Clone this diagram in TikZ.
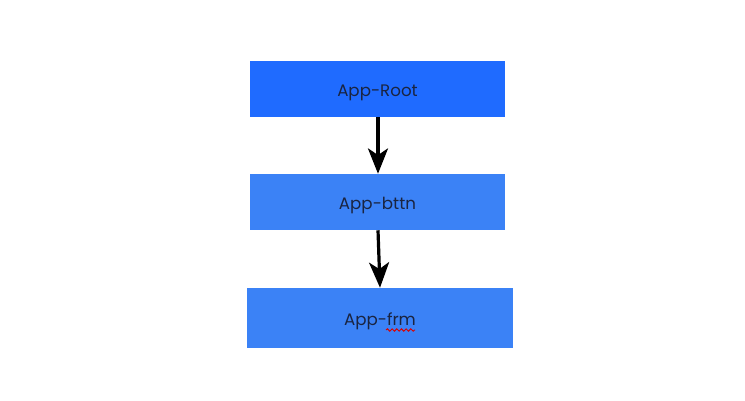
\documentclass[tikz,border=0pt]{standalone}
\usepackage{fontspec}
\setmainfont{Poppins}
\usetikzlibrary{arrows.meta,decorations.pathmorphing}
\definecolor{rootblue}{HTML}{1F6BFF}
\definecolor{compblue}{HTML}{3B82F6}
\definecolor{labelnavy}{HTML}{1A2440}
\tikzset{
  comp/.style={fill=compblue,inner sep=0pt,text=labelnavy,text height=13pt,text depth=2.5pt,font=\fontsize{12.5}{15}\selectfont},
  link/.style={line width=2.4pt,-{Stealth[length=19pt,width=15pt,inset=5pt]}}
}
\begin{document}
\begin{tikzpicture}[x=0.75pt,y=-0.75pt]
            \useasboundingbox (0,0) rectangle (745,400);
            \node[comp,fill=rootblue,minimum width=191.25pt,minimum height=42pt] (root) at (377.5,89) {App-Root};
            \node[comp,minimum width=191.25pt,minimum height=42pt] (bttn) at (377.5,202) {App-bttn};
            \node[comp,minimum width=199.5pt,minimum height=45pt] (frm) at (380,318) {App-frm};
            \draw[link] (root.south -| 378,0) -- (bttn.north -| 378,0);
            \draw[link] (bttn.south -| 378,0) -- (frm.north -| 380,0);
            % spell-check underline
            \draw[red!85!black,line width=0.7pt,decorate,decoration={snake,amplitude=0.9pt,segment length=3.5pt}] (386,330) -- (415,330);
        \end{tikzpicture}
\end{document}
